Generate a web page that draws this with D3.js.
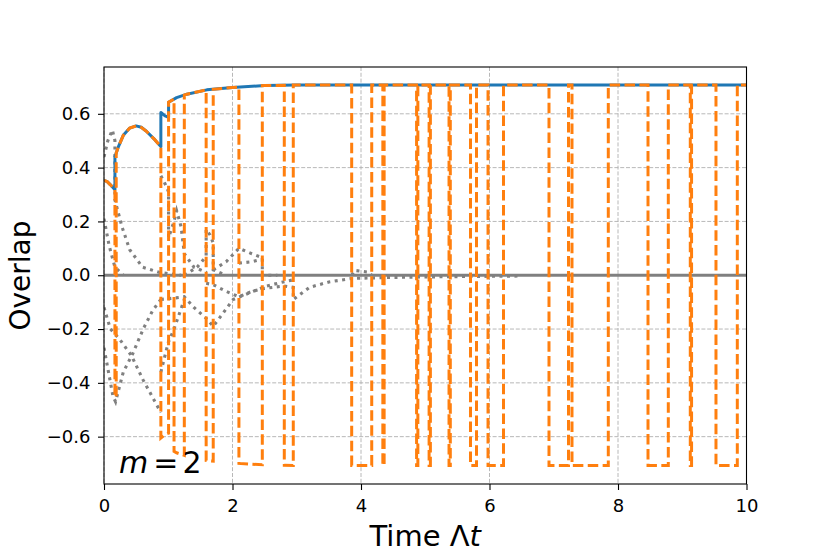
<!DOCTYPE html>
<html>
<head>
<meta charset="utf-8">
<script src="https://cdn.jsdelivr.net/npm/d3@7"></script>
<style>
  body { margin: 0; background: #fff; }
  svg text { font-family: "DejaVu Sans", sans-serif; }
</style>
</head>
<body>
<svg id="chart" width="830" height="554"></svg>
<script>
'use strict'

// overlap with the target state (blue); repeated times are jumps
const mainT = [0, 0.05, 0.1, 0.17, 0.17, 0.22, 0.3, 0.4, 0.5, 0.58, 0.66, 0.79, 0.885, 0.885, 0.95, 1.005, 1.005, 1.13, 1.29, 1.6, 2.0, 2.5, 3.0, 10]
const mainV = [0.352, 0.348, 0.336, 0.318, 0.44, 0.475, 0.52, 0.547, 0.555, 0.55, 0.535, 0.504, 0.478, 0.605, 0.592, 0.587, 0.643, 0.66, 0.673, 0.689, 0.698, 0.705, 0.707, 0.707]

// times where the orange (signed) overlap changes sign
const flipTimes = [0.17, 0.19, 0.885, 1.005, 1.09, 1.25, 1.59, 1.70, 2.10, 2.464, 2.806, 2.946,
  3.855, 4.167, 4.34, 4.36, 4.865, 4.885, 5.06, 5.08, 5.37, 5.39, 5.704, 5.798, 5.977, 6.218,
  6.926, 7.23, 7.284, 7.849, 8.467, 8.783, 9.125, 9.145, 9.525, 9.857]

// other overlaps (grey dotted)
const g1T = [0, 0.06, 0.13, 0.17, 0.17, 0.28, 0.4, 0.6, 0.87, 1.2]
const g1V = [0.44, 0.50, 0.54, 0.50, 0.28, 0.18, 0.095, 0.03, 0.01, 0.0]
const g2T = [0, 0.08, 0.17, 0.3]
const g2V = [0.21, 0.11, 0.03, 0.0]
const g3T = [0, 0.1, 0.25, 0.43, 0.61, 0.885]
const g3V = [-0.12, -0.2, -0.24, -0.30, -0.39, -0.51]
const g4T = [0, 0.14, 0.18, 0.3, 0.45, 0.61, 0.76, 0.885]
const g4V = [-0.27, -0.45, -0.47, -0.36, -0.29, -0.20, -0.13, -0.09]
const g5T = [0.885, 0.95, 1.005, 1.005, 1.09, 1.13, 1.2, 1.25, 1.4, 1.6]
const g5V = [0.37, 0.34, 0.31, 0.14, 0.2, 0.24, 0.18, 0.08, 0.03, 0.01]
const g6T = [1.25, 1.45, 1.59, 1.59, 1.65, 1.7, 1.7, 1.9]
const g6V = [0.0, 0.03, 0.07, 0.17, 0.15, 0.12, 0.02, 0.0]
const g7T = [1.7, 1.9, 2.1, 2.3, 2.464, 2.464, 2.7]
const g7V = [0.02, 0.05, 0.1, 0.08, 0.065, 0.0, 0.0]
const g8T = [2.1, 2.3, 2.464]
const g8V = [0.045, 0.05, 0.06]
const g9T = [0.885, 1.0, 1.09, 1.25]
const g9V = [-0.36, -0.25, -0.20, -0.09]
const g10T = [0.885, 1.09, 1.25, 1.4, 1.59, 1.7, 1.81, 2.01, 2.27, 2.53, 2.79, 2.946]
const g10V = [-0.09, -0.085, -0.08, -0.12, -0.16, -0.19, -0.155, -0.09, -0.065, -0.04, -0.025, -0.017]
const g11T = [1.59, 1.7, 1.9, 2.1, 2.3, 2.464, 2.8, 2.946, 2.946, 3.2, 3.5, 3.855, 4.5, 5.5, 6.5]
const g11V = [-0.03, -0.035, -0.06, -0.08, -0.06, -0.05, -0.04, -0.045, -0.09, -0.045, -0.025, -0.012, -0.008, -0.005, -0.003]
const g12T = [3.855, 3.9, 4.1, 4.167]
const g12V = [0.0, 0.018, 0.012, 0.0]
const zeroT = [0, 10]
const zeroV = [0, 0]

const xTicks = [0, 2, 4, 6, 8, 10]
const yTicks = [-0.6, -0.4, -0.2, 0.0, 0.2, 0.4, 0.6]

const margins = {top: 67, left: 104}
const chartWidth = 642.5
const chartHeight = 417

const x = d3.scaleLinear().domain([0, 10]).range([0, chartWidth])
const y = d3.scaleLinear().domain([-0.776, 0.774]).range([chartHeight, 0])

const svg = d3.select('#chart')
const g = svg.append('g').attr('transform', 'translate(' + margins.left + ',' + margins.top + ')')

g.append('clipPath').attr('id', 'plotclip')
  .append('rect').attr('width', chartWidth).attr('height', chartHeight)

// grid
g.selectAll('.xgrid').data(xTicks).enter().append('line')
  .attr('x1', d => x(d)).attr('x2', d => x(d)).attr('y1', 0).attr('y2', chartHeight)
  .attr('stroke', '#b0b0b0').attr('stroke-width', 0.9).attr('stroke-dasharray', '4,1.8')
g.selectAll('.ygrid').data(yTicks).enter().append('line')
  .attr('y1', d => y(d)).attr('y2', d => y(d)).attr('x1', 0).attr('x2', chartWidth)
  .attr('stroke', '#b0b0b0').attr('stroke-width', 0.9).attr('stroke-dasharray', '4,1.8')

const line = d3.line().x(d => x(d[0])).y(d => y(d[1]))
const zip = (ts, vs) => ts.map((t, i) => [t, vs[i]])

const plot = g.append('g').attr('clip-path', 'url(#plotclip)')

// grey curves
const greyLines = [[g1T, g1V], [g2T, g2V], [g3T, g3V], [g4T, g4V], [g5T, g5V], [g6T, g6V],
  [g7T, g7V], [g8T, g8V], [g9T, g9V], [g10T, g10V], [g11T, g11V], [g12T, g12V]]
greyLines.forEach(pair => {
  plot.append('path').attr('d', line(zip(pair[0], pair[1])))
    .attr('fill', 'none').attr('stroke', '#808080').attr('stroke-width', 3.1)
    .attr('stroke-dasharray', '3,4.5')
})
plot.append('path').attr('d', line(zip(zeroT, zeroV)))
  .attr('fill', 'none').attr('stroke', '#808080').attr('stroke-width', 3.1)

// blue curve
plot.append('path').attr('d', line(zip(mainT, mainV)))
  .attr('fill', 'none').attr('stroke', '#1f77b4').attr('stroke-width', 3)
  .attr('stroke-linejoin', 'round')

// value of the blue curve just left (side<0) or right (side>0) of t
function limitAt(t, side) {
  const n = mainT.length
  const lerp = (a, b) => mainV[a] + (mainV[b] - mainV[a]) * (t - mainT[a]) / (mainT[b] - mainT[a])
  if (side < 0) {
    let i = -1
    for (let k = 0; k < n; k++) if (mainT[k] < t) i = k
    if (i < 0) return mainV[0]
    if (i === n - 1) return mainV[n - 1]
    return lerp(i, i + 1)
  }
  let j = n
  for (let k = n - 1; k >= 0; k--) if (mainT[k] > t) j = k
  if (j === n) return mainV[n - 1]
  if (j === 0) return mainV[0]
  return lerp(j - 1, j)
}

// orange: same magnitude, sign flips at flipTimes
const allT = Array.from(new Set(mainT.concat(flipTimes))).sort((a, b) => a - b)
let sign = 1
const orangePts = []
allT.forEach(t => {
  orangePts.push([t, sign * limitAt(t, -1)])
  if (flipTimes.includes(t)) sign = -sign
  orangePts.push([t, sign * limitAt(t, 1)])
})
plot.append('path').attr('d', line(orangePts))
  .attr('fill', 'none').attr('stroke', '#ff7f0e').attr('stroke-width', 3)
  .attr('stroke-dasharray', '10.5,4.4')

// axes
const xAxis = g.append('g').attr('transform', 'translate(0,' + chartHeight + ')')
  .call(d3.axisBottom(x).tickValues(xTicks).tickSize(6).tickPadding(9.5).tickFormat(d3.format('d')))
const yAxis = g.append('g')
  .call(d3.axisLeft(y).tickValues(yTicks).tickSize(6).tickPadding(7.5).tickFormat(d3.format('.1f')))
;[xAxis, yAxis].forEach(a => {
  a.select('.domain').remove()
  a.selectAll('line').attr('stroke', '#000').attr('stroke-width', 1.1)
  a.selectAll('text').attr('font-size', 18).attr('fill', '#000')
    .attr('font-family', '"DejaVu Sans", sans-serif')
})

// frame
g.append('rect').attr('width', chartWidth).attr('height', chartHeight)
  .attr('fill', 'none').attr('stroke', '#000').attr('stroke-width', 1.1)

// axis labels
const xLabel = svg.append('text')
  .attr('x', margins.left + chartWidth / 2).attr('y', 546)
  .attr('text-anchor', 'middle').attr('font-size', 29)
xLabel.append('tspan').text('Time \u039b')
xLabel.append('tspan').attr('font-style', 'italic').text('t')

svg.append('text')
  .attr('transform', 'translate(30,' + (margins.top + chartHeight / 2) + ') rotate(-90)')
  .attr('text-anchor', 'middle').attr('font-size', 28)
  .text('Overlap')

// annotation
const ann = svg.append('text').attr('x', 119).attr('y', 473).attr('font-size', 30)
ann.append('tspan').attr('font-style', 'italic').text('m')
ann.append('tspan').attr('dx', 5).text('=')
ann.append('tspan').attr('dx', 4).text('2')
</script>
</body>
</html>
